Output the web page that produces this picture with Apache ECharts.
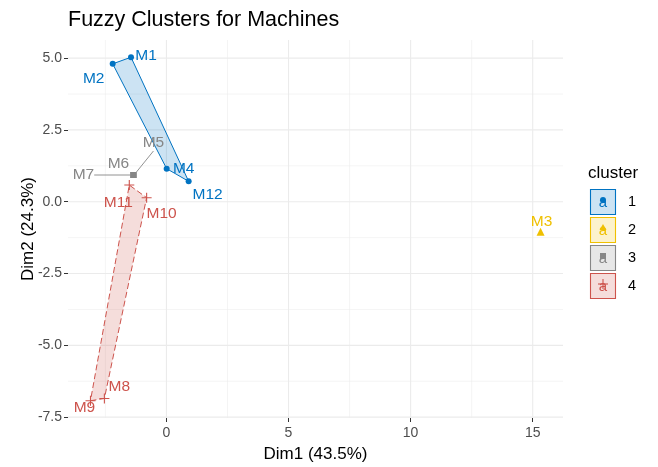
<!DOCTYPE html>
<html><head><meta charset="utf-8">
<script src="https://cdn.jsdelivr.net/npm/echarts@6/dist/echarts.min.js"></script>
<style>html,body{margin:0;padding:0;background:#fff}#c{width:658px;height:467px}</style>
</head><body><div id="c"></div>
<script>
// ---- data ----
const names = ['M1','M2','M3','M4','M5','M6','M7','M8','M9','M10','M11','M12'];
const dim1 = [-1.45,-2.20,15.32,0.01,-1.35,-1.35,-1.35,-2.54,-3.11,-0.81,-1.52,0.91];
const dim2 = [5.03,4.80,-1.05,1.15,0.93,0.93,0.93,-6.85,-6.93,0.14,0.58,0.71];
const cluster = [1,1,2,1,3,3,3,4,4,4,4,1];
const clusterLevels = ['1','2','3','4'];
const xTicks = [0,5,10,15];
const yTicks = [-7.5,-5,-2.5,0,2.5,5];
const xMinor = [-2.5,2.5,7.5,12.5];
const yMinor = [-6.25,-3.75,-1.25,1.25,3.75];
const xLim = [-4.03,16.24];
const yLim = [-7.53,5.63];

// ---- styling / layout ----
const FONT = '"Liberation Sans", Arial, sans-serif';
const colors = ['#0073C2','#EFC000','#868686','#CD534C'];
const fills = ['rgba(0,115,194,0.2)','rgba(239,192,0,0.2)','rgba(134,134,134,0.2)','rgba(205,83,76,0.2)'];
const plusPath = 'path://M0,4.45H10V5.55H0Z M4.45,0H5.55V10H4.45Z';
const symbols = ['circle','triangle','rect',plusPath];
const symbolSizes = [6,8,6,10];
const hullDash = ['solid','solid','solid',[6,3]];
const labelOffset = {M1:[15,-2],M2:[-19,15],M3:[1,-10],M4:[17,0],M5:[20,-32],M6:[-15,-11],M7:[-50,0],
  M8:[15,-12],M9:[-6,7],M10:[15,16],M11:[-11,18],M12:[19,13]};
const labelGuide = {M5:true, M7:true};

function convexHull(p){
  const pts = p.slice().sort((a,b)=>a[0]-b[0]||a[1]-b[1]);
  const u=[];
  for(const q of pts){ if(!u.length||u[u.length-1][0]!==q[0]||u[u.length-1][1]!==q[1]) u.push(q); }
  if(u.length<3) return u;
  const cross=(o,a,b)=>(a[0]-o[0])*(b[1]-o[1])-(a[1]-o[1])*(b[0]-o[0]);
  const lower=[]; for(const q of u){ while(lower.length>=2&&cross(lower[lower.length-2],lower[lower.length-1],q)<=0) lower.pop(); lower.push(q); }
  const upper=[]; for(let i=u.length-1;i>=0;i--){ const q=u[i]; while(upper.length>=2&&cross(upper[upper.length-2],upper[upper.length-1],q)<=0) upper.pop(); upper.push(q); }
  upper.pop(); lower.pop(); return lower.concat(upper);
}

const hulls = clusterLevels.map((lv,k)=>convexHull(names.map((n,i)=>[dim1[i],dim2[i],cluster[i]]).filter(p=>p[2]===k+1).map(p=>[p[0],p[1]])));

// grid lines data
const gridData = [];
xTicks.forEach(v=>gridData.push([v,yLim[0],v,yLim[1],0]));
xMinor.forEach(v=>gridData.push([v,yLim[0],v,yLim[1],1]));
yTicks.forEach(v=>gridData.push([xLim[0],v,xLim[1],v,0]));
yMinor.forEach(v=>gridData.push([xLim[0],v,xLim[1],v,1]));

const series = [];
series.push({
  type:'custom', silent:true, z:0, data:gridData,
  renderItem:(params,api)=>{
    const a=api.coord([api.value(0),api.value(1)]), b=api.coord([api.value(2),api.value(3)]);
    return {type:'line', shape:{x1:a[0],y1:a[1],x2:b[0],y2:b[1]},
      style:{stroke:'#EBEBEB', lineWidth: api.value(4)===0?1.1:0.55}};
  }
});
series.push({
  type:'custom', silent:true, z:1,
  data: hulls.map((h,k)=>[k]).filter(d=>hulls[d[0]].length>=3),
  renderItem:(params,api)=>{
    const k=api.value(0);
    const pts=hulls[k].map(p=>api.coord(p));
    return {type:'polygon', shape:{points:pts},
      style:{fill:fills[k], stroke:colors[k], lineWidth:1, lineDash:hullDash[k]}};
  }
});
clusterLevels.forEach((lv,k)=>{
  const data=[];
  names.forEach((n,i)=>{
    if(cluster[i]!==k+1) return;
    const item={name:n, value:[dim1[i],dim2[i]]};
    if(labelGuide[n]) item.labelLine={show:true, lineStyle:{color:colors[k], width:0.9}};
    data.push(item);
  });
  series.push({
    type:'scatter', name:lv, z:3, data,
    symbol:symbols[k], symbolSize:symbolSizes[k],
    itemStyle:{color:colors[k], opacity:1},
    label:{show:true, position:'inside', formatter:'{b}', color:colors[k], fontSize:15.5, fontFamily:FONT},
    labelLine:{show:false},
    labelLayout:(p)=>{ const o=labelOffset[p.text]||[0,0]; return {dx:o[0], dy:o[1]}; },
    emphasis:{disabled:true}
  });
});

// legend drawn as graphic
const graphic=[{type:'text', x:588, y:173, style:{text:'cluster', font:'17px '+FONT, fill:'#000', align:'left', verticalAlign:'middle'}}];
clusterLevels.forEach((lv,k)=>{
  const y0=189.5+28*k, cx=603, cy=y0+12.5;
  graphic.push({type:'rect', shape:{x:590.5,y:y0,width:25,height:25}, style:{fill:fills[k], stroke:colors[k], lineWidth:1.1}});
  graphic.push({type:'text', x:cx, y:cy+1, style:{text:'a', font:'15px '+FONT, fill:colors[k], align:'center', verticalAlign:'middle'}});
  if(k===0) graphic.push({type:'circle', shape:{cx:cx,cy:cy-2,r:3}, style:{fill:colors[k]}});
  if(k===1) graphic.push({type:'polygon', shape:{points:[[cx,cy-6],[cx-3.5,cy],[cx+3.5,cy]]}, style:{fill:colors[k]}});
  if(k===2) graphic.push({type:'rect', shape:{x:cx-3,y:cy-5,width:6,height:6}, style:{fill:colors[k]}});
  if(k===3){
    graphic.push({type:'line', shape:{x1:cx-5,y1:cy-2,x2:cx+5,y2:cy-2}, style:{stroke:colors[k], lineWidth:1.1}});
    graphic.push({type:'line', shape:{x1:cx,y1:cy-7,x2:cx,y2:cy+3}, style:{stroke:colors[k], lineWidth:1.1}});
  }
  graphic.push({type:'text', x:628, y:cy, style:{text:lv, font:'14.5px '+FONT, fill:'#000', align:'left', verticalAlign:'middle'}});
});

const chart = echarts.init(document.getElementById('c'), null, {renderer:'canvas'});
chart.setOption({
  animation:false,
  backgroundColor:'#fff',
  title:{text:'Fuzzy Clusters for Machines', left:68, top:9, padding:0,
    textStyle:{fontSize:21.5, fontWeight:'normal', color:'#000', fontFamily:FONT}},
  grid:{left:68, right:95, top:40, bottom:49, outerBoundsMode:'none', containLabel:false},
  xAxis:{type:'value', min:xLim[0], max:xLim[1], name:'Dim1 (43.5%)', nameLocation:'middle', nameGap:28,
    nameMoveOverlap:false,
    nameTextStyle:{fontSize:17, color:'#000', fontFamily:FONT},
    axisLine:{show:false, onZero:false}, splitLine:{show:false},
    axisTick:{show:true, length:4, customValues:xTicks, lineStyle:{color:'#333', width:1}},
    axisLabel:{customValues:xTicks, margin:8, color:'#4D4D4D', fontSize:14, fontFamily:FONT, formatter:v=>String(v)}},
  yAxis:{type:'value', min:yLim[0], max:yLim[1], name:'Dim2 (24.3%)', nameLocation:'middle', nameGap:31,
    nameMoveOverlap:false,
    nameTextStyle:{fontSize:17, color:'#000', fontFamily:FONT},
    axisLine:{show:false, onZero:false}, splitLine:{show:false},
    axisTick:{show:true, length:4, customValues:yTicks, lineStyle:{color:'#333', width:1}},
    axisLabel:{customValues:yTicks, margin:6, color:'#4D4D4D', fontSize:14, fontFamily:FONT, formatter:v=>v.toFixed(1)}},
  graphic,
  series
});
</script></body></html>
